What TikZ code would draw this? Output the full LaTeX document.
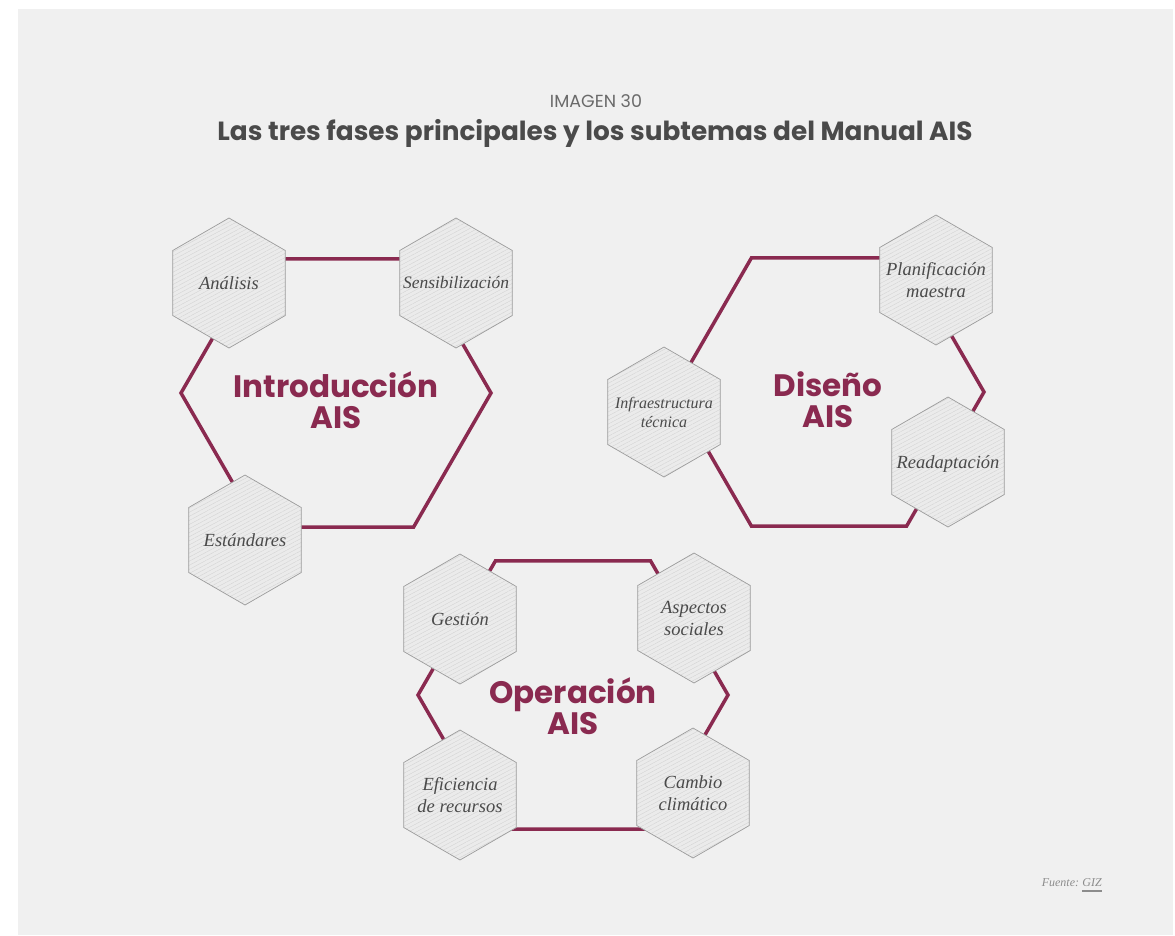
\documentclass[tikz,border=0pt]{standalone}
\usepackage{fontspec}
\setmainfont{Liberation Serif}
\newfontfamily\headfont{Poppins}
\usetikzlibrary{shapes.geometric,patterns.meta}
\definecolor{fondo}{HTML}{F0F0F0}
\definecolor{vino}{HTML}{8A2A50}
\definecolor{grisoscuro}{HTML}{4A4A4A}
\definecolor{grismedio}{HTML}{6A6A6A}
\definecolor{grisclaro}{HTML}{8C8C8C}
\definecolor{hexrelleno}{HTML}{EBEBEB}
\definecolor{hexborde}{HTML}{9C9C9C}
\definecolor{rayado}{HTML}{D4D4D4}

\begin{document}
\begin{tikzpicture}[x=1pt,y=-1pt,
    fase/.style={regular polygon, regular polygon sides=6, minimum size=310pt,
        inner sep=0pt, outer sep=0pt, draw=vino, line width=3.5pt},
    subtema/.style={regular polygon, regular polygon sides=6, shape border rotate=30,
        minimum size=130pt, inner sep=0pt, outer sep=0pt, draw=hexborde, line width=0.7pt,
        preaction={fill=hexrelleno},
        pattern={Lines[angle=28,distance=3.6pt,line width=0.4pt]}, pattern color=rayado},
    textosub/.style={font=\itshape\fontsize{18.5}{22}\selectfont, text=grisoscuro,
        align=center, inner sep=0pt},
    textofase/.style={font=\headfont\bfseries\fontsize{31}{31}\selectfont,
        text=vino, align=center, inner sep=0pt}]

    % fondo y marco de la imagen
    \useasboundingbox (0,0) rectangle (1175,935);
    \fill[fondo] (18,9) rectangle (1173,935);

    % titulo
    \node[font=\headfont\fontsize{17.5}{17.5}\selectfont, text=grismedio, anchor=base] (imagen) at (596,107) {IMAGEN 30};
    \node[font=\headfont\bfseries\fontsize{26.3}{26.3}\selectfont, text=grisoscuro, anchor=base] (titulo) at (595,140)
        {Las tres fases principales y los subtemas del Manual AIS};

    % las tres fases (hexagonos grandes)
    \node[fase] (intro) at (336,393) {};
    \node[fase] (diseno) at (829,392) {};
    \node[fase] (operacion) at (573,695) {};

    \node[textofase] (t-intro) at (336,400) {Introducción\\AIS};
    \node[textofase] (t-diseno) at (828,400) {Diseño\\AIS};
    \node[textofase] (t-operacion) at (573,706) {Operación\\AIS};

    % subtemas de Introduccion AIS
    \node[subtema] (analisis) at (229,283) {};
    \node[subtema] (sensibilizacion) at (456,283) {};
    \node[subtema] (estandares) at (245,540) {};
    \node[textosub] at (analisis) {Análisis};
    \node[textosub, font=\itshape\fontsize{17.5}{22}\selectfont] at (sensibilizacion) {Sensibilización};
    \node[textosub] at (estandares) {Estándares};

    % subtemas de Diseno AIS
    \node[subtema] (planificacion) at (936,280) {};
    \node[subtema] (infraestructura) at (664,412) {};
    \node[subtema] (readaptacion) at (948,462) {};
    \node[textosub] at (planificacion) {Planificación\\maestra};
    \node[textosub, font=\itshape\fontsize{16}{19}\selectfont] at (infraestructura) {Infraestructura\\técnica};
    \node[textosub] at ([yshift=-2pt]readaptacion.center) {Readaptación};

    % subtemas de Operacion AIS
    \node[subtema] (gestion) at (460,619) {};
    \node[subtema] (aspectos) at (694,618) {};
    \node[subtema] (eficiencia) at (460,795) {};
    \node[subtema] (cambio) at (693,793) {};
    \node[textosub] at (gestion) {Gestión};
    \node[textosub] at (aspectos) {Aspectos\\sociales};
    \node[textosub] at (eficiencia) {Eficiencia\\de recursos};
    \node[textosub] at (cambio) {Cambio\\climático};

    % fuente
    \node[font=\itshape\fontsize{12}{12}\selectfont, text=grisclaro, anchor=base east, inner sep=0pt] (giz) at (1102,886) {GIZ};
    \node[font=\itshape\fontsize{12}{12}\selectfont, text=grisclaro, anchor=base east, inner sep=0pt] (fuente) at ([xshift=-3pt]giz.base west) {Fuente:};
    \draw[grisclaro, line width=1.3pt] ([yshift=-5pt]giz.base west) -- ([yshift=-5pt]giz.base east);

\end{tikzpicture}
\end{document}
